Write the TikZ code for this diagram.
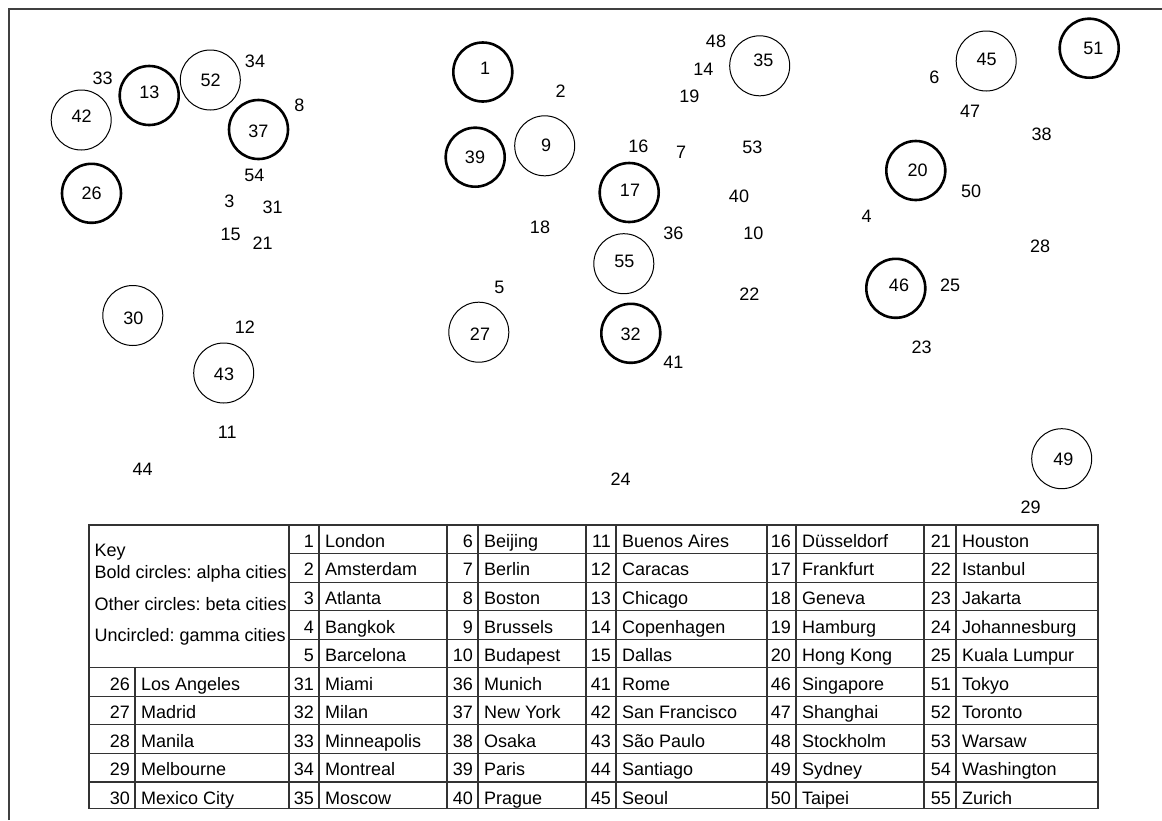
\documentclass[tikz,border=0pt]{standalone}
\usepackage{fontspec}
\setmainfont{Liberation Sans}
\frenchspacing
\begin{document}
\begin{tikzpicture}[x=1pt,y=-1pt,
  txt/.style={font=\fontsize{18}{21.6}\selectfont, inner sep=0pt, text=black},
  lbl/.style={txt, anchor=center},
  alphacity/.style={circle, draw=black, line width=2.6pt, minimum size=59pt, inner sep=0pt},
  betacity/.style={circle, draw=black, line width=1pt, minimum size=60pt, inner sep=0pt},
  numtxt/.style={txt, anchor=base east},
  citytxt/.style={txt, anchor=base west},
  grid/.style={draw=black!80, line width=1.2pt},
  frame/.style={draw=black!75, line width=1.4pt}]

\useasboundingbox (0,0) rectangle (1162,820);

% outer frame (top and left edges)
\draw[frame] (9,820) -- (9,9) -- (1162,9);

% alpha cities (bold circles)
\foreach \n/\x/\y in {13/149.2/95.5, 37/258.5/129.5, 26/91.5/193.3,
  1/482.8/72, 39/475.2/157.2, 17/629.2/192.5, 32/630.8/333.3,
  20/915.8/170.5, 46/895.8/288.3, 51/1089.2/48.2}
  \node[alphacity] (c\n) at (\x,\y) {};

% beta cities (thin circles)
\foreach \n/\x/\y in {42/81.2/120, 52/210.3/80, 9/544.7/145.8,
  35/759.7/65.8, 55/623.8/263.7, 27/478.8/332.2, 30/132.8/315.5,
  43/223.7/373, 45/986.2/61, 49/1061.7/458.7}
  \node[betacity] (c\n) at (\x,\y) {};

% city numbers
\foreach \n/\x/\y in {
  42/81.7/116.7, 13/149.3/92.7, 52/210.7/80, 37/258.3/131, 26/91.7/193.3,
  33/102.7/78.7, 34/255/61.7, 8/299.3/105, 54/254.3/175.7, 3/229.3/201.7,
  31/272.7/207.3, 15/230.7/234, 21/262.7/243.3,
  1/485/68.3, 39/475/157.7, 9/546/145, 17/630/190, 35/763.3/60,
  48/716/41, 14/703.3/69, 19/689.3/96, 2/560.7/91.7, 16/638.3/146.7,
  7/681/152.7, 53/752.3/147.7, 40/739/196.7, 18/540/227.7,
  36/673.3/233.3, 10/753.3/233.3,
  55/624.3/261, 27/480/334.3, 32/630.7/334, 5/499.3/287.7,
  22/749.3/294, 41/673.3/362.7, 24/620.7/479.3,
  30/133.3/318.3, 43/224/374, 12/245/327.7, 11/227.3/432.3, 44/142.7/469.3,
  20/917.7/170, 46/899/285.7, 50/971/191, 4/866.7/216, 28/1040/246,
  25/950/285.7, 23/921.7/347.7,
  45/986.7/59, 51/1093.3/48.3, 6/934.3/77.7, 47/970/111, 38/1041.7/134.3,
  49/1063.3/459, 29/1030.7/507.3}
  \node[lbl] (l\n) at (\x,\y) {\n};

% key table: grid
\path[grid]
  (89,525) rectangle (1098,808.3)
  (289,553.55) -- (1098,553.55)
  (289,582.1) -- (1098,582.1)
  (289,610.65) -- (1098,610.65)
  (289,639.2) -- (1098,639.2)
  (89,667.75) -- (1098,667.75)
  (89,696.3) -- (1098,696.3)
  (89,724.85) -- (1098,724.85)
  (89,753.4) -- (1098,753.4)
  (89,781.95) -- (1098,781.95)
  (135,667.75) -- (135,808.3);
\foreach \xv in {289,319,447,478,586,616,767,796,924,956}
  \path[grid] (\xv,525) -- (\xv,808.3);

% key legend
\node[citytxt] (key0) at (94.5,556) {Key};
\node[citytxt] (key1) at (94.5,578.3) {Bold circles: alpha cities};
\node[citytxt] (key2) at (94.5,610) {Other circles: beta cities};
\node[citytxt] (key3) at (94.5,641.7) {Uncircled: gamma cities};

% key table: entries
\foreach \xl/\xn/\first/\rz/\names in {
  289/319/1/0/{London,Amsterdam,Atlanta,Bangkok,Barcelona},
  447/478/6/0/{Beijing,Berlin,Boston,Brussels,Budapest},
  586/616/11/0/{Buenos Aires,Caracas,Chicago,Copenhagen,Dallas},
  767/796/16/0/{Düsseldorf,Frankfurt,Geneva,Hamburg,Hong Kong},
  924/956/21/0/{Houston,Istanbul,Jakarta,Johannesburg,Kuala Lumpur},
  89/135/26/5/{Los Angeles,Madrid,Manila,Melbourne,Mexico City},
  289/319/31/5/{Miami,Milan,Minneapolis,Montreal,Moscow},
  447/478/36/5/{Munich,New York,Osaka,Paris,Prague},
  586/616/41/5/{Rome,San Francisco,São Paulo,Santiago,Seoul},
  767/796/46/5/{Singapore,Shanghai,Stockholm,Sydney,Taipei},
  924/956/51/5/{Tokyo,Toronto,Warsaw,Washington,Zurich}}
{
  \foreach \city [count=\i from 0] in \names {
    \pgfmathtruncatemacro\num{\first+\i}
    \pgfmathsetmacro\yb{525+28.55*(\rz+\i+1)-6.2}
    \node[numtxt] (num\num) at (\xn-5,\yb) {\num};
    \node[citytxt] (city\num) at (\xn+6,\yb) {\city};
  }
}
\end{tikzpicture}
\end{document}
